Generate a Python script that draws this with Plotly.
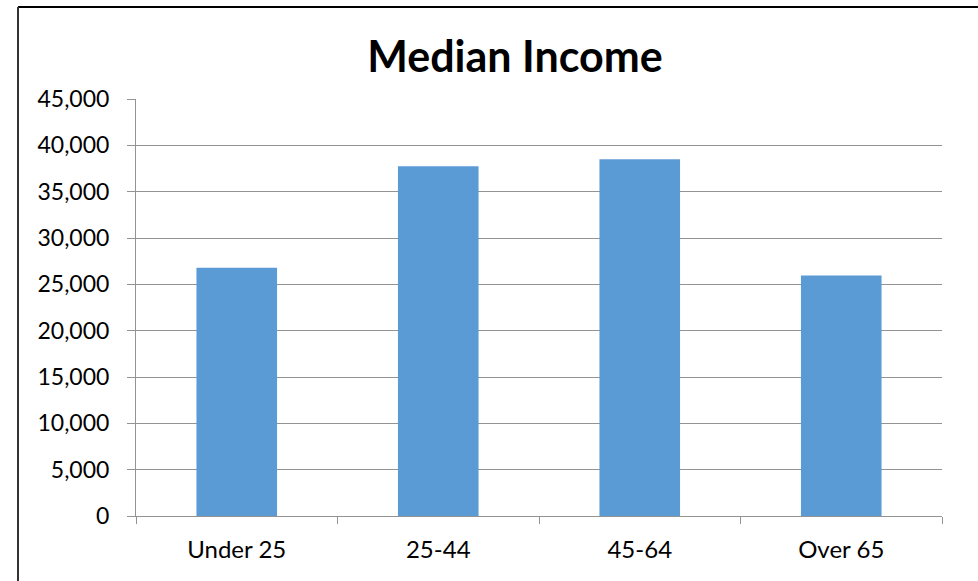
import plotly.graph_objects as go

categories = ["Under 25", "25-44", "45-64", "Over 65"]
income = [26800, 37730, 38490, 25940]
y_ticks = [0, 5000, 10000, 15000, 20000, 25000, 30000, 35000, 40000, 45000]
y_tick_labels = ["0", "5,000", "10,000", "15,000", "20,000", "25,000", "30,000", "35,000", "40,000", "45,000"]

W, H = 978, 581
ml, mr, mt, mb = 136, 36, 99, 65
pw, ph = W - ml - mr, H - mt - mb

fig = go.Figure(go.Bar(x=categories, y=income, marker=dict(color="#5B9BD5", line=dict(width=0))))

FONT = "Lato"
fig.update_layout(
    width=W, height=H,
    margin=dict(l=ml, r=mr, t=mt, b=mb),
    paper_bgcolor="white", plot_bgcolor="white",
    bargap=0.6,
    showlegend=False,
    title=dict(text="<b>Median Income</b>", x=515 / W, xanchor="center", y=1 - 57 / H, yanchor="middle",
               font=dict(family=FONT, size=43, color="black")),
    font=dict(family=FONT, color="black"),
)
fig.update_yaxes(range=[0, 45000], tickvals=y_ticks, ticktext=y_tick_labels,
                 showgrid=True, gridcolor="#939393", gridwidth=1,
                 showline=True, linecolor="#939393", linewidth=1,
                 ticks="outside", ticklen=8, tickcolor="#939393", ticklabelstandoff=13,
                 tickfont=dict(size=23, family=FONT, color="black"), zeroline=False)
fig.update_xaxes(showline=True, linecolor="#939393", linewidth=1,
                 ticks="outside", ticklen=7, tickcolor="#939393", tickson="boundaries",
                 ticklabelstandoff=12,
                 tickfont=dict(size=24, family=FONT, color="black"), showgrid=False)

# outer chart border (left and top edges visible)
def px_x(x):
    return (x - ml) / pw
def px_y(y):
    return 1 - (y - mt) / ph
fig.add_shape(type="line", xref="paper", yref="paper", x0=px_x(18), x1=px_x(W + 5), y0=px_y(7), y1=px_y(7),
              line=dict(color="black", width=2))
fig.add_shape(type="line", xref="paper", yref="paper", x0=px_x(18), x1=px_x(18), y0=px_y(7), y1=px_y(H + 5),
              line=dict(color="#333333", width=2))

fig.write_html("out.html")
